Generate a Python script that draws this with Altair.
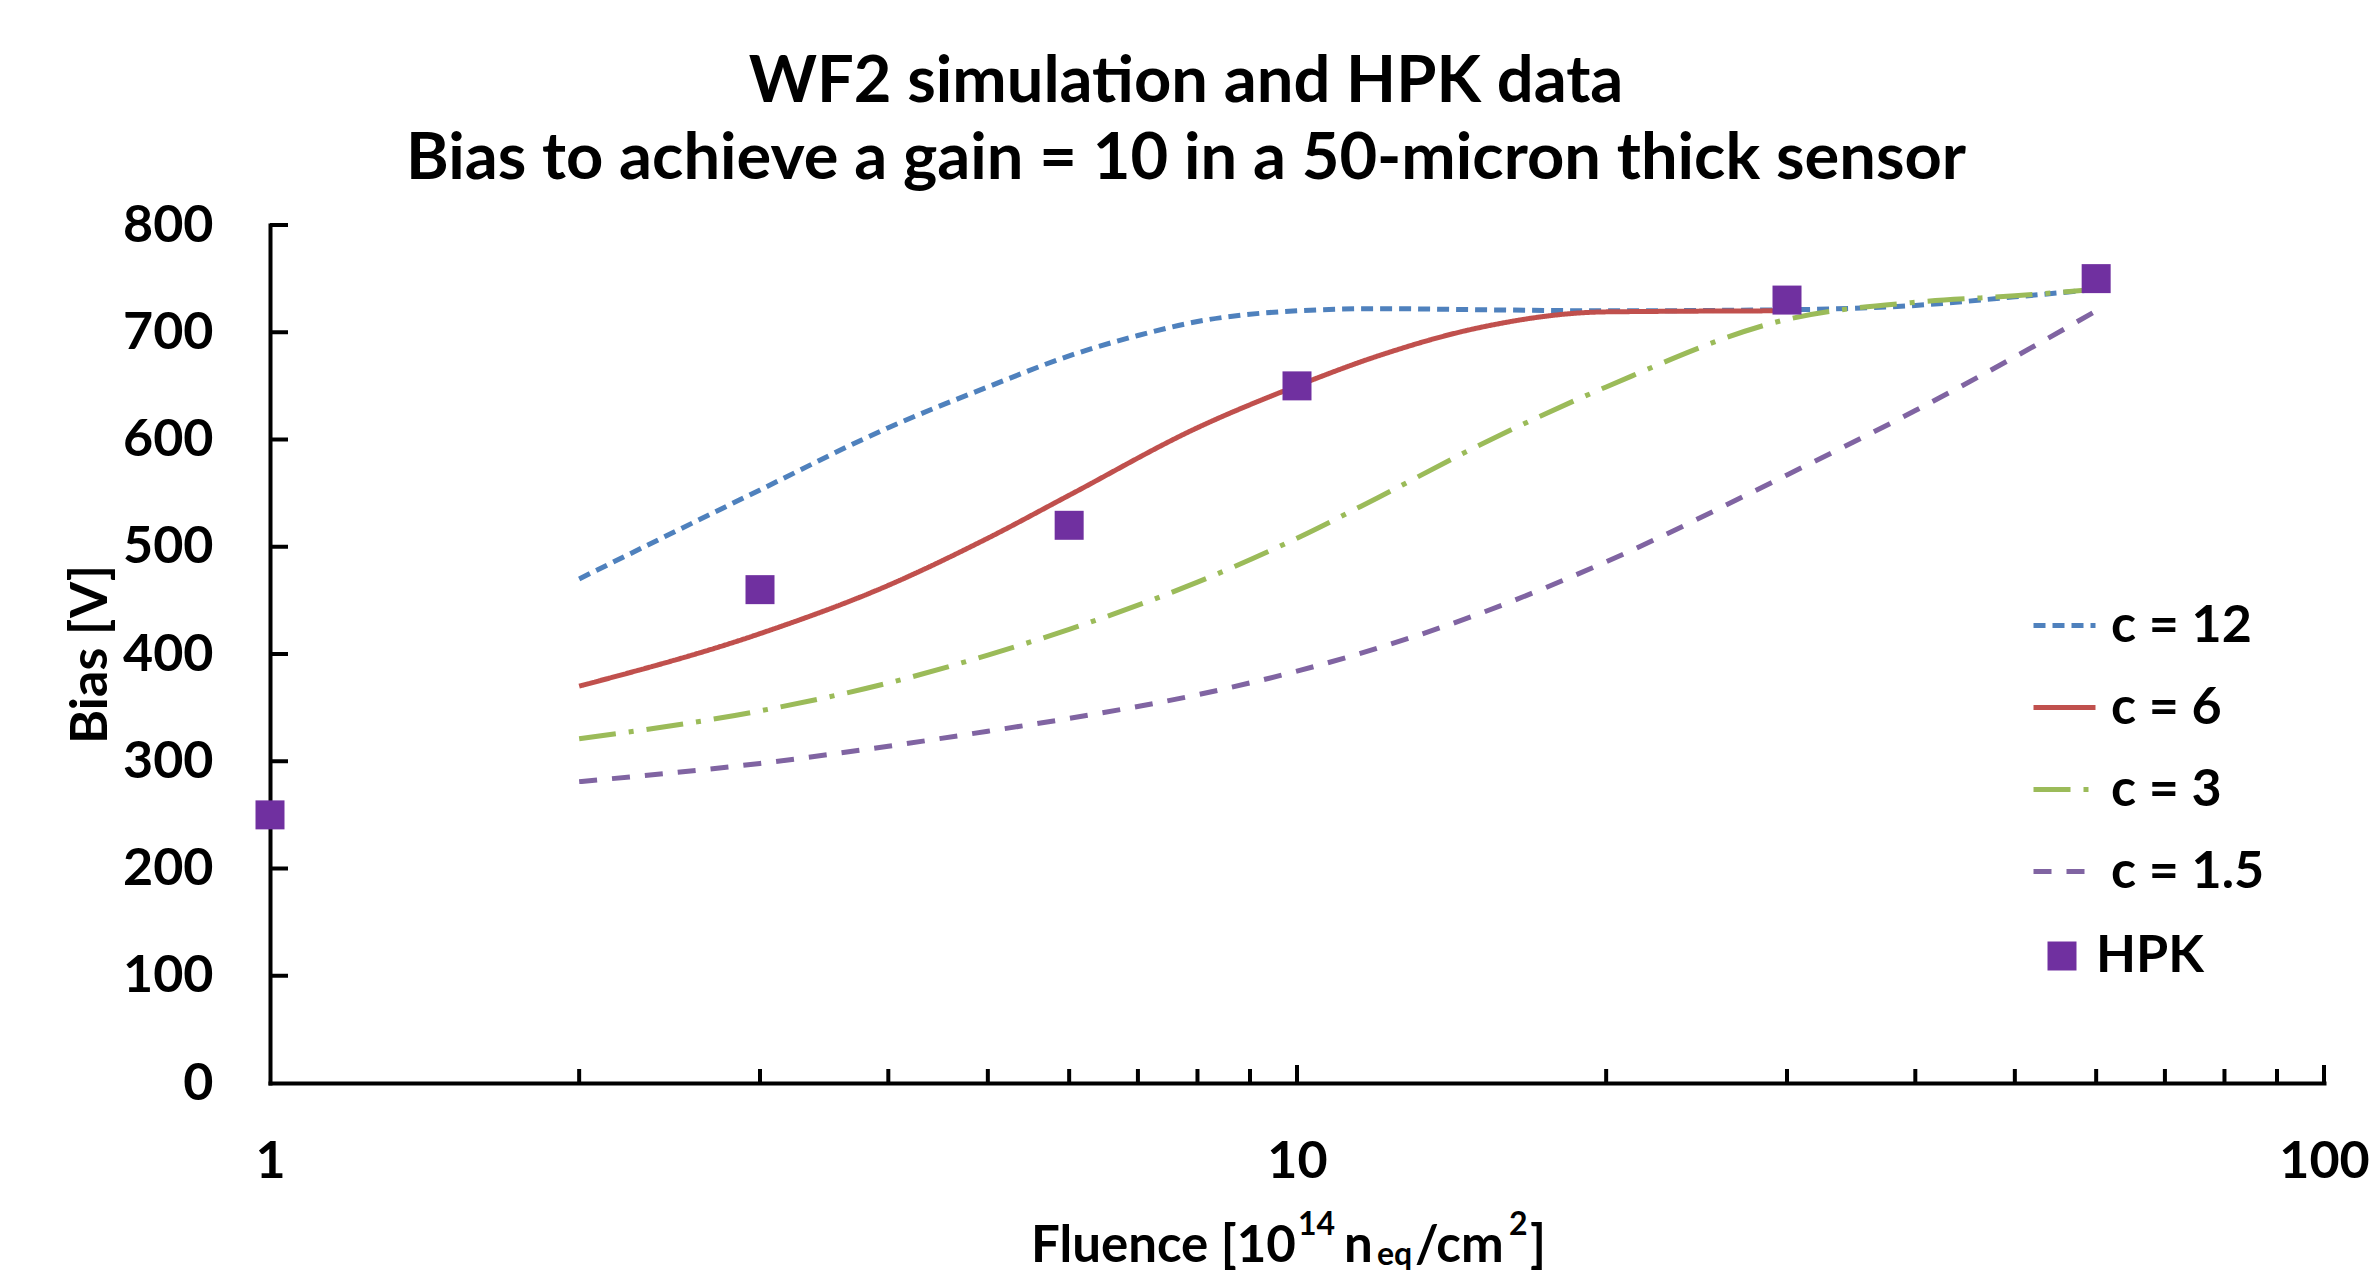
import altair as alt
import pandas as pd

# ---------------- data ----------------
TITLE_LINES = ["WF2 simulation and HPK data",
               "Bias to achieve a gain = 10 in a 50-micron thick sensor"]
Y_TITLE = "Bias [V]"
# x-axis title split into normal / superscript / subscript pieces
XT_TEXT = ["Fluence [10", "14", "n", "eq", "/cm", "2", "]"]
XT_KIND = ["main", "sup", "main", "sub", "main", "sup", "main"]

SERIES = ["c = 12", "c = 6", "c = 3", "c = 1.5"]
COLORS = ["#4F81BD", "#C0504D", "#9BBB59", "#8064A2"]
DASHES = [[12, 7], [1, 0], [37, 13, 5, 13], [18, 15]]

f12 = [2, 3, 4, 5, 6, 7, 8, 10, 12, 15, 20, 30, 40, 50, 60]
v12 = [470, 553, 611, 649, 678, 697, 710, 720, 722, 721, 720, 721, 725, 733, 740]
f6 = [2, 3, 4, 5, 6, 8, 10, 12, 15, 20, 30]
v6 = [370, 419, 464, 508, 548, 611, 650, 678, 704, 719, 720]
f3 = [2, 3, 4, 5, 6, 8, 10, 12, 15, 20, 30, 40, 50, 60]
v3 = [321, 347, 373, 399, 423, 467, 508, 546, 594, 649, 712, 728, 734, 740]
f15 = [2, 3, 4, 5, 6, 8, 10, 15, 20, 30, 40, 50, 60]
v15 = [281, 298, 314, 328, 340, 362, 384, 437, 486, 567, 627, 677, 720]

HPK_NAME = "HPK"
hpk_f = [1, 3, 6, 10, 30, 60]
hpk_v = [250, 460, 520, 650, 730, 750]

Y_TICKS = [0, 100, 200, 300, 400, 500, 600, 700, 800]
X_LABELS = [1, 10, 100]
X_MINOR = [2, 3, 4, 5, 6, 7, 8, 9, 20, 30, 40, 50, 60, 70, 80, 90]
X_MAJOR = [10, 100]

# ---------------- tables ----------------
rows = []
for name, fs, vs in zip(SERIES, [f12, f6, f3, f15], [v12, v6, v3, v15]):
    for f, v in zip(fs, vs):
        rows.append({"series": name, "fluence": f, "bias": v})
df_lines = pd.DataFrame(rows)
df_hpk = pd.DataFrame({"name": [HPK_NAME] * len(hpk_f), "fluence": hpk_f, "bias": hpk_v})

# ---------------- layout ----------------
W, H = 2054, 858
FONT = "Lato"
BIG = 52

x_scale = alt.Scale(type="log", domain=[1, 100], nice=False)
y_scale = alt.Scale(domain=[0, 800], nice=False)

x_axis = alt.Axis(values=X_LABELS, format="d", title=None, grid=False, ticks=False, tickSize=0,
                  domainColor="black", domainWidth=4, domainCap="square",
                  labelFont=FONT, labelFontWeight="bold", labelFontSize=BIG, labelColor="black",
                  labelPadding=53, labelFlush=False, labelOverlap=False)
y_axis = alt.Axis(values=Y_TICKS, title=Y_TITLE, grid=False, ticks=False, tickSize=0,
                  domainColor="black", domainWidth=4, domainCap="square",
                  labelFont=FONT, labelFontWeight="bold", labelFontSize=BIG, labelColor="black",
                  labelPadding=57, labelOverlap=False,
                  titleFont=FONT, titleFontWeight="bold", titleFontSize=BIG, titleColor="black",
                  titleAngle=270, titleX=-164, titleY=429, titleAlign="center",
                  titleBaseline="alphabetic")

line_legend = alt.Legend(title=None, orient="none", legendX=1761, legendY=367, padding=0,
                         symbolType="stroke", symbolSize=3844, symbolStrokeWidth=5,
                         labelFont=FONT, labelFontWeight="bold", labelFontSize=BIG,
                         labelColor="black", labelOffset=13, rowPadding=22)

lines = alt.Chart(df_lines).mark_line(strokeWidth=5, interpolate="monotone").encode(
    x=alt.X("fluence:Q", scale=x_scale, axis=x_axis),
    y=alt.Y("bias:Q", scale=y_scale, axis=y_axis),
    color=alt.Color("series:N", scale=alt.Scale(domain=SERIES, range=COLORS), legend=line_legend),
    strokeDash=alt.StrokeDash("series:N", scale=alt.Scale(domain=SERIES, range=DASHES),
                              legend=line_legend),
)

pts = alt.Chart(df_hpk).mark_point(filled=True, size=841, opacity=1, color="#7030A0",
                                   strokeWidth=0).encode(
    x=alt.X("fluence:Q", scale=x_scale, axis=x_axis),
    y=alt.Y("bias:Q", scale=y_scale, axis=y_axis),
    shape=alt.Shape("name:N", scale=alt.Scale(domain=[HPK_NAME], range=["square"]),
                    legend=alt.Legend(title=None, orient="none", legendX=1766, legendY=705,
                                      padding=0, symbolSize=841, symbolFillColor="#7030A0",
                                      symbolStrokeWidth=0, labelFont=FONT,
                                      labelFontWeight="bold", labelFontSize=BIG,
                                      labelColor="black", labelOffset=8)),
)

# inward ticks
ytick = alt.Chart(pd.DataFrame({"bias": Y_TICKS[1:]})).mark_rule(color="black", strokeWidth=4).encode(
    y=alt.Y("bias:Q", scale=y_scale, axis=y_axis), x=alt.value(0), x2=alt.value(18))
xminor = alt.Chart(pd.DataFrame({"fluence": X_MINOR})).mark_rule(color="black", strokeWidth=4).encode(
    x=alt.X("fluence:Q", scale=x_scale, axis=x_axis), y=alt.value(H), y2=alt.value(H - 14))
xmajor = alt.Chart(pd.DataFrame({"fluence": X_MAJOR})).mark_rule(color="black", strokeWidth=4).encode(
    x=alt.X("fluence:Q", scale=x_scale, axis=x_axis), y=alt.value(H), y2=alt.value(H - 18))

# titles as text
texts = []
for line, yy in zip(TITLE_LINES, [-123, -46]):
    texts.append(alt.Chart(pd.DataFrame({"t": [line]})).mark_text(
        font=FONT, fontWeight="bold", fontSize=65, align="center", baseline="alphabetic",
        color="black").encode(text="t:N", x=alt.value(916), y=alt.value(yy)))

XT_X = [761, 1028, 1074, 1107, 1145, 1239, 1260]
KIND_STYLE = {"main": (51, 1037), "sup": (32, 1010), "sub": (32, 1040)}
for t, k, xx in zip(XT_TEXT, XT_KIND, XT_X):
    fs, yy = KIND_STYLE[k]
    texts.append(alt.Chart(pd.DataFrame({"t": [t]})).mark_text(
        font=FONT, fontWeight="bold", fontSize=fs, align="left", baseline="alphabetic",
        color="black").encode(text="t:N", x=alt.value(xx), y=alt.value(yy)))

chart = alt.layer(lines, pts, ytick, xminor, xmajor, *texts).properties(
    width=W, height=H,
    padding={"left": 262, "top": 217, "right": 47, "bottom": 191},
    autosize=alt.AutoSizeParams(type="none"),
    background="white",
).configure_view(stroke=None)

chart.save("out.html", embed_options={"renderer": "svg", "actions": False})
